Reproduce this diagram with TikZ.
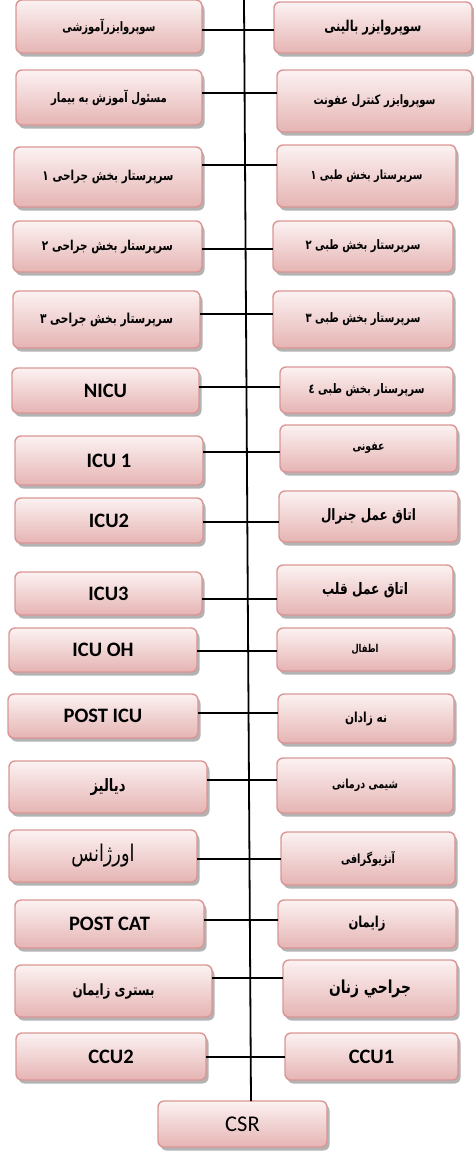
\documentclass[tikz,border=0pt]{standalone}
\usepackage{fontspec}
\usetikzlibrary{shadows,calc}
\TeXXeTstate=1
\newfontfamily\arabicfont[Script=Arabic]{DejaVu Sans}
\newfontfamily\latinfont{Carlito}
\definecolor{boxline}{RGB}{217,150,148}
\definecolor{boxtop}{RGB}{252,242,242}
\definecolor{boxbot}{RGB}{229,180,179}
\newcommand{\fa}[2]{\scalebox{1}[1.3]{\resizebox{#1pt}{!}{\arabicfont\bfseries #2}}}
\newcommand{\faR}[2]{\scalebox{1}[1.3]{\resizebox{#1pt}{!}{\arabicfont #2}}}
\tikzset{
  orgbox/.style={rectangle, rounded corners=6pt, draw=boxline, line width=1.4pt,
    top color=boxtop, bottom color=boxbot, inner sep=0pt, outer sep=0pt,
    drop shadow={shadow xshift=2.5pt, shadow yshift=-3.5pt, fill=black!50, opacity=0.6}},
  lat/.style={font=\latinfont\bfseries\fontsize{20.5}{24}\selectfont},
  csrfont/.style={font=\latinfont\fontsize{22.5}{26}\selectfont},
  spine/.style={line width=1.8pt},
  conn/.style={line width=1.3pt},
}
\begin{document}
\begin{tikzpicture}[x=1pt,y=-1pt]
\useasboundingbox (0,0) rectangle (474,1152);
% left column
\node[orgbox, minimum width=186pt, minimum height=53pt] (L1) at (109,26.5) {\fa{93}{\beginR سوپروایزرآموزشی\endR}};
\node[orgbox, minimum width=186pt, minimum height=55pt] (L2) at (109,97.5) {\fa{116}{\beginR مسئول آموزش به بیمار\endR}};
\node[orgbox, minimum width=188pt, minimum height=60pt] (L3) at (108,177) {\fa{131}{\beginR سرپرستار بخش جراحی ۱\endR}};
\node[orgbox, minimum width=189pt, minimum height=51pt] (L4) at (107.5,246.5) {\fa{131}{\beginR سرپرستار بخش جراحی ۲\endR}};
\node[orgbox, minimum width=187pt, minimum height=57pt] (L5) at (106.5,319.5) {\fa{133}{\beginR سرپرستار بخش جراحی ۳\endR}};
\node[orgbox, lat, minimum width=187pt, minimum height=45pt] (L6) at (105.5,390.5) {NICU};
\node[orgbox, lat, minimum width=188pt, minimum height=49pt] (L7) at (109,460.5) {ICU 1};
\node[orgbox, lat, minimum width=188pt, minimum height=45pt] (L8) at (109,520.5) {ICU2};
\node[orgbox, lat, minimum width=187pt, minimum height=43pt] (L9) at (108.5,593.5) {ICU3};
\node[orgbox, lat, minimum width=188pt, minimum height=44pt] (L10) at (103,650) {ICU OH};
\node[orgbox, lat, minimum width=190pt, minimum height=44pt] (L11) at (103,716) {POST ICU};
\node[orgbox, minimum width=198pt, minimum height=52pt] (L12) at (108,787) {\fa{35}{\beginR دیالیز\endR}};
\node[orgbox, minimum width=188pt, minimum height=52pt] (L13) at (103,856) {\faR{63}{\beginR اورژانس\endR}};
\node[orgbox, lat, minimum width=189pt, minimum height=48pt] (L14) at (109.5,924) {POST CAT};
\node[orgbox, minimum width=197pt, minimum height=52pt] (L15) at (113.5,991) {\fa{82}{\beginR بستری زایمان\endR}};
\node[orgbox, lat, minimum width=190pt, minimum height=47pt] (L16) at (111,1056.5) {CCU2};
% right column
\node[orgbox, minimum width=198pt, minimum height=51pt] (R1) at (373,27.5) {\fa{97}{\beginR سوپروایزر بالینی\endR}};
\node[orgbox, minimum width=195pt, minimum height=62pt] (R2) at (374.5,101) {\fa{122}{\beginR سوپروایزر کنترل عفونت\endR}};
\node[orgbox, minimum width=179pt, minimum height=62pt] (R3) at (366.5,176) {\fa{112}{\beginR سرپرستار بخش طبی ۱\endR}};
\node[orgbox, minimum width=180pt, minimum height=51pt] (R4) at (363,246.5) {\fa{115}{\beginR سرپرستار بخش طبی ۲\endR}};
\node[orgbox, minimum width=180pt, minimum height=57pt] (R5) at (363,319.5) {\fa{115}{\beginR سرپرستار بخش طبی ۳\endR}};
\node[orgbox, minimum width=173pt, minimum height=46pt] (R6) at (366.5,390) {\fa{116}{\beginR سرپرستار بخش طبی ٤\endR}};
\node[orgbox, minimum width=177pt, minimum height=47pt] (R7) at (368.5,448.5) {\fa{32}{\beginR عفونی\endR}};
\node[orgbox, minimum width=179pt, minimum height=51pt] (R8) at (368.5,516.5) {\fa{95}{\beginR اتاق عمل جنرال\endR}};
\node[orgbox, minimum width=176pt, minimum height=50pt] (R9) at (365,590) {\fa{86}{\beginR اتاق عمل قلب\endR}};
\node[orgbox, minimum width=176pt, minimum height=43pt] (R10) at (365,649.5) {\fa{27}{\beginR اطفال\endR}};
\node[orgbox, minimum width=176pt, minimum height=49pt] (R11) at (366,718.5) {\fa{42}{\beginR نه زادان\endR}};
\node[orgbox, minimum width=176pt, minimum height=55pt] (R12) at (365,785.5) {\fa{66}{\beginR شیمی درمانی\endR}};
\node[orgbox, minimum width=174pt, minimum height=53pt] (R13) at (368,858.5) {\fa{54}{\beginR آنژیوگرافی\endR}};
\node[orgbox, minimum width=178pt, minimum height=48pt] (R14) at (367,924) {\fa{37}{\beginR زایمان\endR}};
\node[orgbox, minimum width=174pt, minimum height=57pt] (R15) at (370,988.5) {\fa{82}{\beginR جراحي زنان\endR}};
\node[orgbox, lat, minimum width=173pt, minimum height=47pt] (R16) at (371.5,1056.5) {CCU1};
% root
\node[orgbox, csrfont, minimum width=169pt, minimum height=46pt] (CSR) at (242.5,1124) {CSR};
% spine
\coordinate (stop) at (244,0);
\draw[spine] (stop) -- ($(CSR.north)+(8.5,0)$);
% connector rows
\foreach \i/\yy in {1/30,2/93,3/165,4/249,5/314,6/387,7/452,8/522,9/599,10/651,11/713,12/780,13/859,14/920,15/978,16/1057}{
  \coordinate (s\i) at (248,\yy);
  \draw[conn] (L\i.east |- s\i) -- (R\i.west |- s\i);
}
\end{tikzpicture}
\end{document}
